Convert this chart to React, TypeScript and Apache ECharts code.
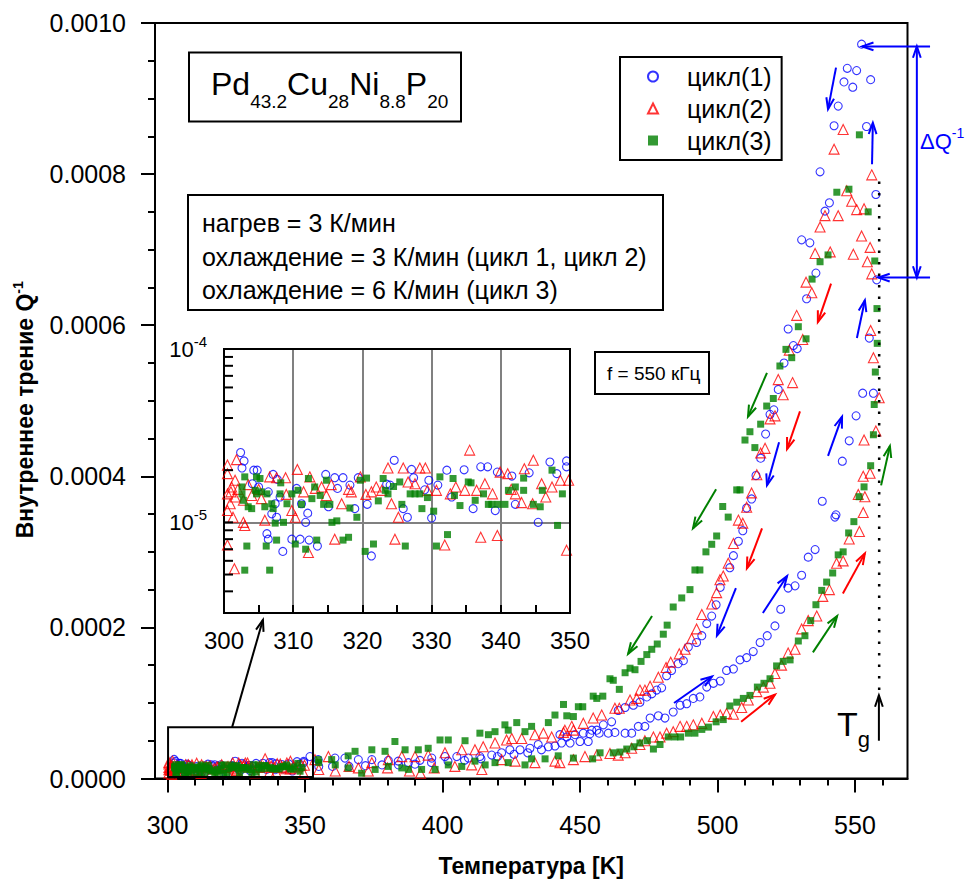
import React, { useEffect, useRef } from 'react';
import * as echarts from 'echarts';

const FONT = "'Liberation Sans', Arial, Helvetica, sans-serif";

// ---------- data: [T (K), Q^-1] ----------
// low-temperature points (300–350 K), Q^-1 in units of 1e-5
const cycle1Low = [
  [302.4, 2.53], [302.9, 2.26], [302.6, 2.06], [304.3, 2.0], [304.8, 2.0], [307.1, 1.89], [307.7, 1.77], [304.1, 1.67],
  [305.0, 1.6], [306.4, 1.5], [308.1, 1.4], [307.4, 1.28], [306.9, 1.12], [307.6, 1.07], [310.5, 1.57], [311.2, 1.28],
  [312.1, 1.13], [311.8, 1.0], [308.5, 0.68], [309.8, 0.8], [311.0, 0.8], [312.3, 0.79], [313.5, 0.73], [306.2, 0.86],
  [306.4, 0.8], [314.7, 1.89], [316.0, 1.81], [317.2, 1.81], [318.2, 1.64], [318.9, 1.2], [315.1, 1.23], [316.4, 1.57],
  [319.4, 1.81], [320.7, 1.27], [321.3, 0.64], [323.5, 1.66], [324.6, 2.28], [324.0, 1.64], [327.1, 2.02], [327.4, 1.81],
  [325.9, 1.2], [326.5, 1.07], [329.0, 1.54], [329.6, 1.75], [330.0, 1.06], [330.9, 1.64], [332.2, 2.0], [332.9, 1.4],
  [334.7, 2.01], [336.0, 1.2], [337.1, 2.09], [338.1, 2.09], [339.2, 1.17], [339.5, 1.95], [341.6, 1.85], [342.1, 1.27],
  [344.1, 1.93], [345.4, 1.0], [347.1, 2.23], [348.1, 1.91], [349.5, 2.26], [349.5, 2.09],
];
const cycle2Low = [
  [300.5, 2.14], [301.8, 2.3], [300.5, 1.91], [301.6, 1.75], [301.1, 1.6], [300.5, 1.46], [301.6, 1.4], [300.9, 1.28],
  [300.5, 1.17], [301.3, 1.07], [302.8, 1.0], [303.0, 0.96], [300.5, 0.74], [301.5, 0.54], [302.8, 1.34], [304.0, 1.43],
  [305.4, 1.37], [305.9, 1.03], [306.6, 1.83], [307.6, 1.81], [308.9, 1.81], [310.6, 2.02], [309.8, 1.17], [310.3, 1.07],
  [312.4, 1.83], [312.2, 0.67], [313.2, 1.57], [314.1, 1.6], [314.8, 1.43], [316.0, 0.8], [317.0, 1.28], [318.4, 1.5],
  [319.7, 1.83], [321.3, 1.5], [322.8, 1.53], [323.7, 2.06], [324.2, 1.28], [324.7, 0.8], [325.2, 1.07], [325.9, 2.06],
  [326.6, 1.71], [327.6, 1.67], [328.3, 2.06], [329.1, 2.06], [329.4, 1.53], [330.7, 1.53], [331.9, 0.74], [332.7, 1.46],
  [334.8, 1.53], [335.5, 2.61], [336.5, 1.53], [337.1, 0.82], [337.7, 1.67], [338.8, 1.46], [339.5, 0.84], [339.9, 1.95],
  [341.0, 1.91], [342.1, 1.46], [343.4, 2.04], [344.6, 1.28], [344.7, 2.28], [345.9, 1.67], [347.4, 1.6], [348.6, 1.75],
  [349.5, 0.69], [349.8, 1.75], [301.0, 1.5], [302.0, 1.55], [303.5, 1.65], [305.0, 1.55], [309.0, 1.45], [311.5, 1.5],
  [315.5, 1.65], [318.0, 1.55], [320.5, 1.45], [322.0, 1.6], [333.5, 1.6], [341.5, 1.55], [346.5, 1.4], [343.0, 1.3],
];
const cycle3Low = [
  [303.0, 1.83], [302.6, 1.6], [302.6, 1.46], [302.8, 1.34], [303.5, 1.23], [304.0, 1.2], [304.7, 1.83], [305.2, 1.79],
  [304.5, 1.53], [304.7, 1.46], [305.4, 1.5], [306.2, 1.46], [305.9, 1.23], [306.9, 1.28], [307.1, 1.2], [307.4, 0.99],
  [308.2, 1.69], [308.1, 1.46], [308.6, 1.0], [309.1, 1.28], [309.8, 1.46], [310.3, 0.75], [310.7, 1.53], [311.2, 1.27],
  [311.8, 0.7], [312.2, 1.79], [312.7, 1.37], [313.1, 1.6], [313.4, 0.79], [313.9, 1.43], [314.4, 1.27], [314.8, 1.75],
  [315.3, 1.27], [315.6, 1.0], [316.3, 1.02], [317.2, 0.79], [318.0, 0.82], [318.2, 1.21], [319.2, 1.07], [319.7, 1.75],
  [320.4, 0.68], [320.6, 1.8], [321.6, 0.75], [322.3, 1.33], [323.0, 1.79], [323.3, 1.53], [323.7, 1.46], [324.5, 1.61],
  [325.4, 1.71], [325.7, 1.27], [326.2, 0.73], [326.9, 1.46], [327.6, 1.46], [328.3, 1.46], [328.6, 1.2], [329.4, 1.39],
  [330.3, 1.16], [330.7, 0.73], [331.2, 1.83], [332.3, 0.85], [333.1, 1.79], [333.3, 1.43], [334.1, 1.25], [335.3, 1.71],
  [335.7, 1.69], [336.3, 1.34], [337.5, 1.46], [338.2, 1.27], [338.7, 1.27], [339.6, 1.27], [340.6, 1.27], [341.1, 1.53],
  [342.1, 1.6], [343.3, 1.53], [343.3, 1.8], [344.7, 1.27], [345.7, 1.23], [346.0, 1.53], [347.4, 2.0], [348.2, 0.96],
  [348.9, 1.46], [303.0, 0.53], [306.6, 0.53], [303.3, 0.73], [306.1, 0.73], [307.6, 0.79],
];

// heating / cooling branches, Q^-1 in units of 1e-4
const cycle1Heat = [
  [355, 0.16], [360, 0.16], [366, 0.16], [372, 0.17], [378, 0.18], [384, 0.18], [390, 0.19], [396, 0.21], [402, 0.23],
  [408, 0.24], [414, 0.26], [420, 0.29], [426, 0.32], [431, 0.34], [436, 0.38], [440.9, 0.43], [446.4, 0.47], [450.0, 0.49],
  [453.0, 0.49], [453.6, 0.59], [457.0, 0.6], [460.3, 0.6], [462.7, 0.61], [466.4, 0.6], [468.8, 0.6], [471.2, 0.69],
  [473.6, 0.69], [475.5, 0.8], [478.5, 0.83], [480.9, 0.8], [483.9, 0.88], [486.4, 0.97], [488.8, 0.99], [491.2, 1.06],
  [493.6, 1.08], [496.1, 1.21], [498.5, 1.26], [501.0, 1.29], [503.3, 1.43], [505.8, 1.45], [508.2, 1.57], [510.6, 1.6],
  [513.0, 1.68], [515.5, 1.8], [518.1, 1.89], [520.9, 2.02], [523.0, 2.24], [525.7, 2.52], [528.2, 2.55], [530.6, 2.69],
  [533.0, 2.93], [535.5, 3.03], [538.1, 3.67], [542.7, 3.46], [543.1, 3.49], [545.4, 4.2], [547.9, 4.47], [550.4, 4.8],
  [552.8, 5.1], [556.7, 5.1], [555.2, 5.83], [557.9, 6.6], [557.6, 7.73], [554.2, 8.63], [552.4, 9.72],
];
const cycle1Cool = [
  [547.2, 9.4], [550.6, 9.37], [546.0, 9.22], [549.2, 9.15], [555.7, 9.25], [543.9, 8.9], [542.4, 8.64], [537.3, 8.03],
  [540.7, 7.62], [539.1, 7.51], [530.6, 7.13], [533.6, 7.09], [535.8, 6.69], [532.4, 6.35], [525.7, 5.95], [527.6, 5.73],
  [529.0, 5.69], [524.2, 5.5], [522.1, 5.15], [520.5, 4.88], [519.1, 4.82], [517.5, 4.56], [515.7, 4.24], [514.0, 4.01],
  [512.4, 3.7], [510.6, 3.58], [509.2, 3.28], [507.6, 3.14], [505.8, 2.95], [504.5, 2.79], [501.0, 2.53], [499.5, 2.3],
  [497.9, 2.15], [496.1, 2.05], [494.3, 1.89], [492.4, 1.8], [489.4, 1.74], [487.6, 1.56], [485.7, 1.52], [483.3, 1.43],
  [481.5, 1.36], [479.7, 1.2], [477.9, 1.17], [476.1, 1.12], [474.3, 1.08], [471.8, 1.01], [469.4, 0.97], [466.4, 0.94],
  [463.9, 0.9], [461.5, 0.75], [458.5, 0.71], [456.1, 0.64], [454.3, 0.64], [451.2, 0.6], [448.2, 0.58], [445.2, 0.55],
  [443.3, 0.47], [442.7, 0.58], [438.5, 0.42], [434.8, 0.45], [431.8, 0.4], [428.2, 0.38], [424.5, 0.38], [421.5, 0.34],
  [417.9, 0.31], [413.6, 0.29], [409.4, 0.27], [405.2, 0.29], [400.9, 0.29], [396.1, 0.27], [391.8, 0.24], [387.6, 0.21],
  [383.9, 0.23], [380.3, 0.24], [374.3, 0.25], [369.4, 0.25], [364.5, 0.27], [360.9, 0.27], [354.8, 0.25], [351.8, 0.29],
];
const cycle2Heat = [
  [355, 0.12], [361, 0.1], [366, 0.16], [373, 0.1], [380, 0.14], [388, 0.1], [392, 0.07], [397, 0.14], [404.5, 0.16],
  [410.6, 0.18], [414.3, 0.12], [421.5, 0.25], [426.4, 0.23], [433.6, 0.21], [440.9, 0.23], [442.7, 0.21], [447.6, 0.25],
  [451.8, 0.29], [456.1, 0.31], [460.9, 0.33], [463.9, 0.31], [466.4, 0.34], [468.8, 0.4], [471.8, 0.45], [473.6, 0.5],
  [476.7, 0.55], [479.1, 0.55], [481.5, 0.6], [483.9, 0.62], [486.4, 0.69], [488.8, 0.69], [491.2, 0.71], [494.3, 0.73],
  [498.5, 0.82], [501.0, 0.84], [503.3, 0.86], [505.8, 0.85], [508.8, 0.94], [511.2, 1.04], [514.3, 1.15], [516.7, 1.21],
  [519.1, 1.26], [520.9, 1.39], [523.3, 1.5], [525.7, 1.66], [528.2, 1.71], [530.6, 1.98], [533.0, 2.09], [536.1, 2.15],
  [538.3, 2.41], [540.7, 2.5], [543.3, 2.85], [545.7, 2.88], [547.9, 3.17], [551.6, 3.27], [553.0, 3.52], [553.6, 3.73],
  [551.2, 3.76], [553.0, 4.0], [555.5, 4.04], [553.3, 4.48], [557.6, 4.6], [558.8, 5.04], [556.7, 5.57], [555.7, 5.93],
  [556.1, 6.68], [554.5, 6.84], [555.5, 7.03], [552.4, 7.18], [553.3, 7.54], [550.6, 7.53], [556.1, 7.99],
];
const cycle2Cool = [
  [545.7, 8.59], [542.4, 8.33], [547.0, 7.78], [548.8, 7.64], [543.9, 7.45], [539.1, 7.45], [537.3, 7.3], [535.5, 6.95],
  [541.0, 6.97], [549.4, 6.94], [532.2, 6.57], [534.3, 6.43], [528.8, 6.13], [531.0, 5.81], [526.1, 5.67], [522.1, 5.28],
  [527.3, 5.24], [523.9, 5.08], [520.9, 4.8], [519.1, 4.76], [517.3, 4.37], [515.7, 4.31], [514.3, 4.02], [512.4, 3.78],
  [510.6, 3.59], [507.6, 3.42], [509.2, 3.38], [505.8, 3.11], [503.9, 2.85], [502.1, 2.68], [500.9, 2.63], [499.7, 2.46],
  [497.9, 2.31], [494.3, 2.17], [492.4, 1.98], [490.6, 1.85], [488.2, 1.71], [486.1, 1.65], [483.0, 1.54], [481.3, 1.47],
  [478.5, 1.34], [475.5, 1.22], [473.6, 1.17], [471.8, 1.17], [470.6, 1.06], [468.2, 1.04], [464.3, 0.93], [462.7, 0.93],
  [457.9, 0.84], [454.8, 0.8], [451.2, 0.73], [447.6, 0.64], [444.0, 0.61], [447.0, 0.69], [444.5, 0.64], [439.7, 0.55],
  [436.7, 0.6], [433.6, 0.58], [428.8, 0.53], [425.2, 0.53], [423.3, 0.51], [419.1, 0.47], [414.8, 0.42], [411.8, 0.38],
  [407.0, 0.38], [400.9, 0.34], [394.8, 0.31], [390.0, 0.29], [385.2, 0.29], [380.3, 0.25], [374.3, 0.21], [369.4, 0.14],
  [358.5, 0.29], [353.6, 0.25],
];
const cycle3Heat = [
  [355, 0.21], [361, 0.18], [365.7, 0.14], [370.6, 0.07], [375.5, 0.12], [380.3, 0.16], [385.2, 0.14], [387.6, 0.12],
  [392.4, 0.12], [397.3, 0.12], [402.1, 0.18], [407, 0.16], [411.8, 0.23], [415.5, 0.18], [419.1, 0.21], [423.9, 0.21],
  [430, 0.18], [432.4, 0.26], [437.3, 0.26], [442.1, 0.3], [447.6, 0.27], [454.6, 0.26], [457.3, 0.34], [462.1, 0.34],
  [464.5, 0.35], [467.0, 0.39], [469.6, 0.42], [471.8, 0.47], [474.5, 0.5], [476.7, 0.39], [479.1, 0.45], [482.1, 0.55],
  [484.5, 0.55], [486.6, 0.55], [489.4, 0.6], [491.8, 0.6], [494.3, 0.65], [496.7, 0.68], [499.5, 0.75], [502.1, 0.78],
  [504.5, 0.96], [507.0, 1.01], [509.4, 1.06], [511.8, 1.1], [514.5, 1.21], [516.9, 1.26], [519.1, 1.32], [521.5, 1.49],
  [523.9, 1.55], [526.4, 1.57], [529.4, 1.82], [531.8, 1.89], [533.9, 2.09], [535.8, 2.3], [537.9, 2.49], [539.7, 2.6],
  [541.9, 2.72], [543.9, 2.96], [545.7, 3.0], [547.7, 3.25], [549.6, 3.4], [551.5, 3.73], [553.3, 3.86], [555.7, 4.14],
  [556.7, 4.55], [557.0, 4.95], [557.4, 5.38], [558.1, 5.76], [558.0, 6.22], [557.2, 6.85], [554.8, 7.5], [551.6, 8.52],
];
const cycle3Cool = [
  [547.8, 7.8], [543.4, 7.76], [540.2, 6.93], [537.3, 6.84], [534.4, 6.61], [529.4, 5.98], [532.2, 5.82], [524.9, 5.68],
  [527.0, 5.57], [522.7, 5.46], [520.3, 5.03], [517.9, 4.93], [515.7, 4.69], [511.8, 4.59], [510.0, 4.48], [513.6, 4.38],
  [507.0, 3.82], [508.2, 3.82], [501.9, 3.6], [503.9, 3.46], [499.7, 3.21], [497.9, 3.1], [495.8, 3.0], [491.8, 2.76],
  [493.6, 2.76], [490.0, 2.5], [487.0, 2.39], [483.9, 2.27], [481.7, 2.03], [480.3, 1.91], [478.1, 1.78], [476.1, 1.71],
  [474.3, 1.64], [472.2, 1.55], [470.0, 1.44], [468.2, 1.46], [466.4, 1.4], [464.3, 1.18], [462.1, 1.3], [460.9, 1.32],
  [458.3, 1.09], [456.1, 1.06], [454.8, 1.09], [451.0, 0.95], [449.4, 0.95], [447.6, 0.82], [444.0, 0.98], [445.2, 0.83],
  [440.9, 0.84], [438.5, 0.74], [432.4, 0.69], [430, 0.62], [427.0, 0.74], [423.9, 0.64], [422.7, 0.71], [419.1, 0.62],
  [416.7, 0.58], [413.6, 0.6], [408.2, 0.5], [402.1, 0.51], [399.1, 0.51], [394.8, 0.4], [391.2, 0.38], [386.4, 0.38],
  [382.7, 0.49], [379.1, 0.36], [374.3, 0.38], [368.2, 0.36], [365.7, 0.3], [359.7, 0.25], [354.8, 0.25],
];

// direction arrows: [T1, Q1(1e-4), T2, Q2(1e-4), heads]
const blueArrows = [
  [543.1, 9.41, 540.2, 8.86, 1], [556.2, 8.13, 556.5, 8.68, 1], [550.7, 5.83, 553.6, 6.33, 1], [522.4, 4.45, 518.0, 3.88, 1],
  [540.2, 4.27, 545.3, 4.79, 1], [506.7, 2.52, 499.8, 1.89, 1], [516.5, 2.19, 525.3, 2.68, 1], [484.2, 1.0, 498.0, 1.35, 1],
  // ΔQ^-1 marker
  [577.3, 9.69, 552.6, 9.69, 1], [577.3, 6.63, 558.5, 6.63, 1], [572.5, 9.69, 572.5, 6.63, 2],
];
const redArrows = [
  [541.3, 6.55, 536.5, 6.04, 1], [530.0, 4.86, 525.3, 4.36, 1], [516.2, 3.31, 510.7, 2.78, 1], [545.6, 2.45, 553.6, 2.98, 1],
  [508.6, 0.75, 520.9, 1.11, 1],
];
const greenArrows = [
  [518.0, 5.37, 511.1, 4.79, 1], [559.5, 3.88, 562.7, 4.4, 1], [499.5, 3.83, 491.1, 3.31, 1], [476.2, 2.15, 467.5, 1.65, 1],
  [534.7, 1.67, 543.5, 2.15, 1],
];
const blackArrows = [
  [558.7, 0.5, 558.7, 1.1, 1],
  [323.5, 0.68, 334.7, 2.1, 1],
];
const tgLine = [[558.8, 1.17, 558.8, 7.94]];
const zoomRect = [[300.2, 0.02, 352.9, 0.68]];

const xMajor = [300, 350, 400, 450, 500, 550];
const xMinor = [310, 320, 330, 340, 360, 370, 380, 390, 410, 420, 430, 440, 460, 470, 480, 490, 510, 520, 530, 540, 560];
const insetYTicks = [4e-6, 5e-6, 6e-6, 7e-6, 8e-6, 9e-6, 1e-5, 2e-5, 3e-5, 4e-5, 5e-5, 6e-5, 7e-5, 8e-5, 9e-5, 1e-4];

const BLUE = '#0000ff';
const RED = '#ff0000';
const GREEN = '#008000';

function mainData(low: number[][], heat: number[][], cool: number[][]) {
  return [
    ...low.map(([t, q]) => [t, q * 1e-5]),
    ...heat.map(([t, q]) => [t, q * 1e-4]),
    ...cool.map(([t, q]) => [t, q * 1e-4]),
  ];
}
function insetData(low: number[][]) {
  return low.filter(([t]) => t >= 300 && t <= 350).map(([t, q]) => [t, q * 1e-5]);
}

function headShape(tip: number[], from: number[], color: string, w: number) {
  const ang = Math.atan2(tip[1] - from[1], tip[0] - from[0]);
  const L = 12;
  const s = 0.33;
  return {
    type: 'polyline',
    shape: {
      points: [
        [tip[0] - L * Math.cos(ang - s), tip[1] - L * Math.sin(ang - s)],
        [tip[0], tip[1]],
        [tip[0] - L * Math.cos(ang + s), tip[1] - L * Math.sin(ang + s)],
      ],
    },
    style: { stroke: color, lineWidth: w, fill: null },
  };
}

function arrowSeries(rows: number[][], color: string, w = 2) {
  return {
    type: 'custom',
    xAxisIndex: 0,
    yAxisIndex: 0,
    silent: true,
    clip: false,
    z: 6,
    data: rows.map((r) => [r[0], r[1] * 1e-4, r[2], r[3] * 1e-4, r[4]]),
    encode: { x: [0, 2], y: [1, 3] },
    renderItem: (_p: any, api: any) => {
      const a = api.coord([api.value(0), api.value(1)]);
      const b = api.coord([api.value(2), api.value(3)]);
      const heads = api.value(4);
      const children: any[] = [
        { type: 'line', shape: { x1: a[0], y1: a[1], x2: b[0], y2: b[1] }, style: { stroke: color, lineWidth: w } },
      ];
      if (heads >= 1) children.push(headShape(b, a, color, w));
      if (heads >= 2) children.push(headShape(a, b, color, w));
      return { type: 'group', children };
    },
  };
}

function scatter(name: string, data: number[][], symbol: string, size: number, color: string, filled: boolean, xi: number, yi: number) {
  return {
    type: 'scatter',
    name,
    xAxisIndex: xi,
    yAxisIndex: yi,
    data,
    symbol,
    symbolSize: size,
    itemStyle: filled
      ? { color, borderWidth: 0 }
      : { color: 'transparent', borderColor: color, borderWidth: 1.1 },
    emphasis: { disabled: true },
    z: 3,
  };
}

export default function App() {
  const ref = useRef<HTMLDivElement>(null);
  useEffect(() => {
    if (!ref.current) return;
    const chart = echarts.init(ref.current, null, { renderer: 'svg' });
    const axisLine = { show: true, lineStyle: { color: '#000', width: 2 } };
    const option: any = {
      animation: false,
      backgroundColor: '#fff',
      textStyle: { fontFamily: FONT, color: '#000' },
      grid: [
        { left: 155, top: 23, width: 752.5, height: 755.5, show: true, borderColor: '#000', borderWidth: 2, backgroundColor: '#fff', outerBoundsMode: 'none' },
        { left: 224, top: 349, width: 346, height: 264, show: true, borderColor: '#000', borderWidth: 2, backgroundColor: '#fff', outerBoundsMode: 'none' },
      ],
      legend: {
        data: ['цикл(1)', 'цикл(2)', 'цикл(3)'],
        orient: 'vertical',
        left: 620,
        top: 57,
        padding: [7, 10, 7, 27],
        itemWidth: 10,
        itemHeight: 10,
        itemGap: 7,
        borderColor: '#000',
        borderWidth: 2,
        backgroundColor: '#fff',
        selectedMode: false,
        textStyle: { fontSize: 25, color: '#000', fontFamily: FONT, padding: [0, 0, 0, 24] },
      },
      xAxis: [
        {
          type: 'value', gridIndex: 0, min: 295.45, max: 569.1,
          axisLine,
          axisTick: { show: true, customValues: xMajor, length: 14, lineStyle: { color: '#000', width: 2 } },
          axisLabel: { customValues: xMajor, fontSize: 25, margin: 34, color: '#000', fontFamily: FONT },
          splitLine: { show: false },
          name: 'Температура [K]', nameLocation: 'middle', nameGap: 76,
          nameTextStyle: { fontSize: 23, fontWeight: 'bold', color: '#000', fontFamily: FONT },
        },
        {
          type: 'value', gridIndex: 0, min: 295.45, max: 569.1, position: 'bottom',
          axisLine: { show: false },
          axisTick: { show: true, customValues: xMinor, length: 7, lineStyle: { color: '#000', width: 2 } },
          axisLabel: { show: false },
          splitLine: { show: false },
        },
        {
          type: 'value', gridIndex: 1, min: 300, max: 350, interval: 10,
          axisLine,
          axisTick: { show: true, inside: true, length: 8, lineStyle: { color: '#000', width: 2 } },
          minorTick: { show: true, splitNumber: 2, length: 8, lineStyle: { color: '#000', width: 2 } },
          axisLabel: { fontSize: 24, margin: 15, color: '#000', fontFamily: FONT },
          splitLine: { show: true, showMinLine: false, showMaxLine: false, lineStyle: { color: '#808080', width: 2 } },
        },
        {
          type: 'value', gridIndex: 1, min: 300, max: 350, position: 'top', z: 5,
          axisLine, axisTick: { show: false }, axisLabel: { show: false }, splitLine: { show: false },
        },
      ],
      yAxis: [
        {
          type: 'value', gridIndex: 0, min: 0, max: 0.001, interval: 0.0002,
          axisLine,
          axisTick: { show: true, length: 14, lineStyle: { color: '#000', width: 2 } },
          minorTick: { show: true, splitNumber: 4, length: 7, lineStyle: { color: '#000', width: 2 } },
          axisLabel: { fontSize: 25, margin: 29, color: '#000', fontFamily: FONT, formatter: (v: number) => v.toFixed(4) },
          splitLine: { show: false },
          name: '{a|Внутреннее трение Q}{b|-1}', nameLocation: 'middle', nameGap: 116, nameRotate: 90,
          nameTextStyle: {
            padding: [0, 18, 0, 0],
            rich: {
              a: { fontSize: 23, fontWeight: 'bold', color: '#000', fontFamily: FONT },
              b: { fontSize: 14, fontWeight: 'bold', color: '#000', fontFamily: FONT, padding: [0, 0, 14, 0] },
            },
          },
        },
        {
          type: 'log', logBase: 10, gridIndex: 1, min: 3e-6, max: 1e-4,
          axisLine,
          axisTick: { show: false },
          axisLabel: {
            margin: 17, showMinLabel: false,
            formatter: (v: number) => {
              const l = Math.log10(v);
              const e = Math.round(l);
              if (Math.abs(l - e) > 0.01) return '';
              return `{b|10}{s|${e}}`;
            },
            rich: {
              b: { fontSize: 22, color: '#000', fontFamily: FONT },
              s: { fontSize: 15, color: '#000', fontFamily: FONT, padding: [0, 0, 16, 0] },
            },
          },
          splitLine: { show: true, showMinLine: false, showMaxLine: false, lineStyle: { color: '#808080', width: 2 } },
        },
        {
          type: 'value', gridIndex: 1, min: 0, max: 1, position: 'right', z: 5,
          axisLine, axisTick: { show: false }, axisLabel: { show: false }, splitLine: { show: false },
        },
      ],
      series: [
        scatter('цикл(1)', mainData(cycle1Low, cycle1Heat, cycle1Cool), 'circle', 8, BLUE, false, 0, 0),
        scatter('цикл(2)', mainData(cycle2Low, cycle2Heat, cycle2Cool), 'triangle', 10, RED, false, 0, 0),
        scatter('цикл(3)', mainData(cycle3Low, cycle3Heat, cycle3Cool), 'rect', 7, GREEN, true, 0, 0),
        scatter('цикл(1)', insetData(cycle1Low), 'circle', 8, BLUE, false, 2, 1),
        scatter('цикл(2)', insetData(cycle2Low), 'triangle', 10, RED, false, 2, 1),
        scatter('цикл(3)', insetData(cycle3Low), 'rect', 7, GREEN, true, 2, 1),
        {
          type: 'custom', xAxisIndex: 2, yAxisIndex: 1, silent: true, clip: false, z: 4,
          data: insetYTicks.map((v) => [300, v]),
          encode: { x: 0, y: 1 },
          renderItem: (_p: any, api: any) => {
            const c = api.coord([api.value(0), api.value(1)]);
            return { type: 'line', shape: { x1: c[0], y1: c[1], x2: c[0] + 9, y2: c[1] }, style: { stroke: '#000', lineWidth: 2 } };
          },
        },
        arrowSeries(blueArrows, BLUE),
        arrowSeries(redArrows, RED),
        arrowSeries(greenArrows, GREEN),
        arrowSeries(blackArrows, '#000'),
        {
          type: 'custom', xAxisIndex: 0, yAxisIndex: 0, silent: true, clip: false, z: 5,
          data: tgLine.map((r) => [r[0], r[1] * 1e-4, r[2], r[3] * 1e-4]),
          encode: { x: [0, 2], y: [1, 3] },
          renderItem: (_p: any, api: any) => {
            const a = api.coord([api.value(0), api.value(1)]);
            const b = api.coord([api.value(2), api.value(3)]);
            return {
              type: 'line',
              shape: { x1: a[0], y1: a[1], x2: b[0], y2: b[1] },
              style: { stroke: '#000', lineWidth: 2.5, lineDash: [2.5, 9] },
            };
          },
        },
        {
          type: 'custom', xAxisIndex: 0, yAxisIndex: 0, silent: true, clip: false, z: 5,
          data: zoomRect.map((r) => [r[0], r[1] * 1e-4, r[2], r[3] * 1e-4]),
          encode: { x: [0, 2], y: [1, 3] },
          renderItem: (_p: any, api: any) => {
            const a = api.coord([api.value(0), api.value(1)]);
            const b = api.coord([api.value(2), api.value(3)]);
            return {
              type: 'rect',
              shape: { x: Math.min(a[0], b[0]), y: Math.min(a[1], b[1]), width: Math.abs(b[0] - a[0]), height: Math.abs(b[1] - a[1]) },
              style: { stroke: '#000', lineWidth: 2, fill: null },
            };
          },
        },
      ],
      graphic: [
        { type: 'rect', z: 10, shape: { x: 189, y: 52.5, width: 272, height: 69 }, style: { fill: '#fff', stroke: '#000', lineWidth: 2 } },
        {
          type: 'text', z: 11, x: 211, y: 84,
          style: {
            text: '{n|Pd}{s|43.2}{n|Cu}{s|28}{n|Ni}{s|8.8}{n|P}{s|20}',
            verticalAlign: 'middle',
            rich: {
              n: { fontSize: 32, fontFamily: FONT, fill: '#000' },
              s: { fontSize: 19, fontFamily: FONT, fill: '#000', padding: [34, 0, 0, 0] },
            },
          },
        },
        { type: 'rect', z: 10, shape: { x: 188, y: 195, width: 475, height: 115 }, style: { fill: '#fff', stroke: '#000', lineWidth: 2 } },
        { type: 'text', z: 11, x: 202, y: 222.5, style: { text: 'нагрев = 3 К/мин', font: `25px ${FONT}`, fill: '#000', verticalAlign: 'middle' } },
        { type: 'text', z: 11, x: 202, y: 256.5, style: { text: 'охлаждение = 3 К/мин (цикл 1, цикл 2)', font: `25px ${FONT}`, fill: '#000', verticalAlign: 'middle' } },
        { type: 'text', z: 11, x: 202, y: 290, style: { text: 'охлаждение = 6 К/мин (цикл 3)', font: `25px ${FONT}`, fill: '#000', verticalAlign: 'middle' } },
        { type: 'rect', z: 10, shape: { x: 595, y: 352, width: 114, height: 42 }, style: { fill: '#fff', stroke: '#000', lineWidth: 2 } },
        { type: 'text', z: 11, x: 607, y: 373, style: { text: 'f = 550 кГц', font: `19px ${FONT}`, fill: '#000', verticalAlign: 'middle' } },
        {
          type: 'text', z: 11, x: 837, y: 724,
          style: {
            text: '{n|T}{s|g}',
            verticalAlign: 'middle',
            rich: {
              n: { fontSize: 34, fontFamily: FONT, fill: '#000' },
              s: { fontSize: 22, fontFamily: FONT, fill: '#000', padding: [30, 0, 0, 0] },
            },
          },
        },
        {
          type: 'text', z: 11, x: 920, y: 141,
          style: {
            text: '{n|ΔQ}{s|-1}',
            verticalAlign: 'middle',
            rich: {
              n: { fontSize: 22, fontFamily: FONT, fill: BLUE },
              s: { fontSize: 14, fontFamily: FONT, fill: BLUE, padding: [0, 0, 16, 0] },
            },
          },
        },
      ],
    };
    chart.setOption(option);
    return () => chart.dispose();
  }, []);
  return <div ref={ref} style={{ position: 'fixed', left: 0, top: 0, width: 972, height: 884, background: '#fff' }} />;
}
